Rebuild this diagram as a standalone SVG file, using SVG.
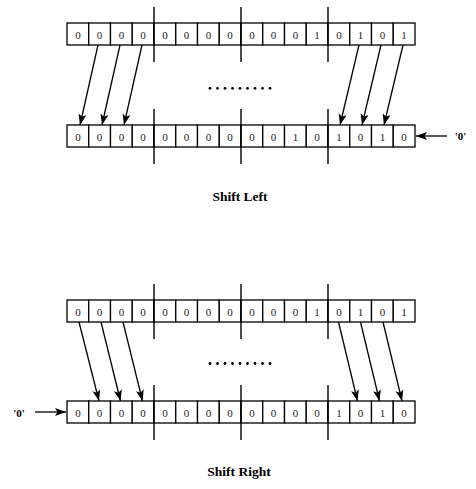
<svg xmlns="http://www.w3.org/2000/svg" width="476" height="489" viewBox="0 0 476 489">
<defs>
<style>
.cell{fill:#fff;stroke:#000;stroke-width:1.3}
.div{stroke:#000;stroke-width:1.4}
.bit{font-family:"Liberation Serif",serif;font-size:11px;text-anchor:middle;fill:#222}
.lbl{font-family:"Liberation Serif",serif;font-size:11px;font-weight:bold;text-anchor:middle}
.title{font-family:"Liberation Serif",serif;font-size:13.5px;font-weight:bold;text-anchor:middle}
.arr{stroke:#000;stroke-width:1.3;fill:none;marker-end:url(#ah)}
.dot{fill:#000}
</style>
<marker id="ah" markerUnits="userSpaceOnUse" markerWidth="12" markerHeight="9" refX="11" refY="4" orient="auto">
<path d="M0,0 L11,4 L0,8 L2.5,4 z" fill="#000"/>
</marker>
<g id="row">
<rect class="cell" x="67" y="0" width="21.75" height="22"/>
<rect class="cell" x="88.75" y="0" width="21.75" height="22"/>
<rect class="cell" x="110.5" y="0" width="21.75" height="22"/>
<rect class="cell" x="132.25" y="0" width="21.75" height="22"/>
<rect class="cell" x="154" y="0" width="21.75" height="22"/>
<rect class="cell" x="175.75" y="0" width="21.75" height="22"/>
<rect class="cell" x="197.5" y="0" width="21.75" height="22"/>
<rect class="cell" x="219.25" y="0" width="21.75" height="22"/>
<rect class="cell" x="241" y="0" width="21.75" height="22"/>
<rect class="cell" x="262.75" y="0" width="21.75" height="22"/>
<rect class="cell" x="284.5" y="0" width="21.75" height="22"/>
<rect class="cell" x="306.25" y="0" width="21.75" height="22"/>
<rect class="cell" x="328" y="0" width="21.75" height="22"/>
<rect class="cell" x="349.75" y="0" width="21.75" height="22"/>
<rect class="cell" x="371.5" y="0" width="21.75" height="22"/>
<rect class="cell" x="393.25" y="0" width="21.75" height="22"/>
<line class="div" x1="154" y1="-16" x2="154" y2="39"/>
<line class="div" x1="241" y1="-16" x2="241" y2="39"/>
<line class="div" x1="328" y1="-16" x2="328" y2="39"/>
</g>
<g id="dots">
<circle class="dot" cx="0" cy="0" r="1.4"/>
<circle class="dot" cx="7.5" cy="0" r="1.4"/>
<circle class="dot" cx="15" cy="0" r="1.4"/>
<circle class="dot" cx="22.5" cy="0" r="1.4"/>
<circle class="dot" cx="30" cy="0" r="1.4"/>
<circle class="dot" cx="37.5" cy="0" r="1.4"/>
<circle class="dot" cx="45" cy="0" r="1.4"/>
<circle class="dot" cx="52.5" cy="0" r="1.4"/>
<circle class="dot" cx="60" cy="0" r="1.4"/>
</g>
</defs>

<g id="left-src">
<use href="#row" x="0" y="23"/>
<g class="bit" transform="translate(0,38.5)">
<text x="77.9">0</text><text x="99.6">0</text><text x="121.4">0</text><text x="143.1">0</text>
<text x="164.9">0</text><text x="186.6">0</text><text x="208.4">0</text><text x="230.1">0</text>
<text x="251.9">0</text><text x="273.6">0</text><text x="295.4">0</text><text x="317.1">1</text>
<text x="338.9">0</text><text x="360.6">1</text><text x="382.4">0</text><text x="404.1">1</text>
</g>
</g>

<g id="left-dst">
<use href="#row" x="0" y="125"/>
<g class="bit" transform="translate(0,140.5)">
<text x="77.9">0</text><text x="99.6">0</text><text x="121.4">0</text><text x="143.1">0</text>
<text x="164.9">0</text><text x="186.6">0</text><text x="208.4">0</text><text x="230.1">0</text>
<text x="251.9">0</text><text x="273.6">0</text><text x="295.4">1</text><text x="317.1">0</text>
<text x="338.9">1</text><text x="360.6">0</text><text x="382.4">1</text><text x="404.1">0</text>
</g>
</g>

<g id="left-dots"><use href="#dots" x="210" y="88.3"/></g>
<g id="left-in"><text class="lbl" x="460.5" y="140">'0'</text></g>
<g id="left-title"><text class="title" x="240" y="201">Shift Left</text></g>

<g id="right-src">
<use href="#row" x="0" y="300"/>
<g class="bit" transform="translate(0,315.5)">
<text x="77.9">0</text><text x="99.6">0</text><text x="121.4">0</text><text x="143.1">0</text>
<text x="164.9">0</text><text x="186.6">0</text><text x="208.4">0</text><text x="230.1">0</text>
<text x="251.9">0</text><text x="273.6">0</text><text x="295.4">0</text><text x="317.1">1</text>
<text x="338.9">0</text><text x="360.6">1</text><text x="382.4">0</text><text x="404.1">1</text>
</g>
</g>

<g id="right-dst">
<use href="#row" x="0" y="401"/>
<g class="bit" transform="translate(0,416.5)">
<text x="77.9">0</text><text x="99.6">0</text><text x="121.4">0</text><text x="143.1">0</text>
<text x="164.9">0</text><text x="186.6">0</text><text x="208.4">0</text><text x="230.1">0</text>
<text x="251.9">0</text><text x="273.6">0</text><text x="295.4">0</text><text x="317.1">0</text>
<text x="338.9">1</text><text x="360.6">0</text><text x="382.4">1</text><text x="404.1">0</text>
</g>
</g>

<g id="right-dots"><use href="#dots" x="210" y="363.5"/></g>
<g id="right-in"><text class="lbl" x="19" y="416.5">'0'</text></g>
<g id="right-title"><text class="title" x="239" y="476">Shift Right</text></g>

<g id="connectors">
<line class="arr" x1="98" y1="45" x2="80" y2="125"/>
<line class="arr" x1="120" y1="45" x2="102" y2="125"/>
<line class="arr" x1="142" y1="45" x2="124" y2="125"/>
<line class="arr" x1="359" y1="45" x2="340" y2="125"/>
<line class="arr" x1="381" y1="45" x2="362" y2="125"/>
<line class="arr" x1="403" y1="45" x2="384" y2="125"/>
<line class="arr" x1="447" y1="136" x2="416" y2="136"/>

<line class="arr" x1="79" y1="322" x2="99" y2="401"/>
<line class="arr" x1="101" y1="322" x2="120.5" y2="401"/>
<line class="arr" x1="123" y1="322" x2="142.5" y2="401"/>
<line class="arr" x1="338.5" y1="322" x2="357.5" y2="401"/>
<line class="arr" x1="360.5" y1="322" x2="379.5" y2="401"/>
<line class="arr" x1="383" y1="322" x2="402" y2="401"/>
<line class="arr" x1="35" y1="412" x2="66" y2="412"/>
</g>
</svg>
